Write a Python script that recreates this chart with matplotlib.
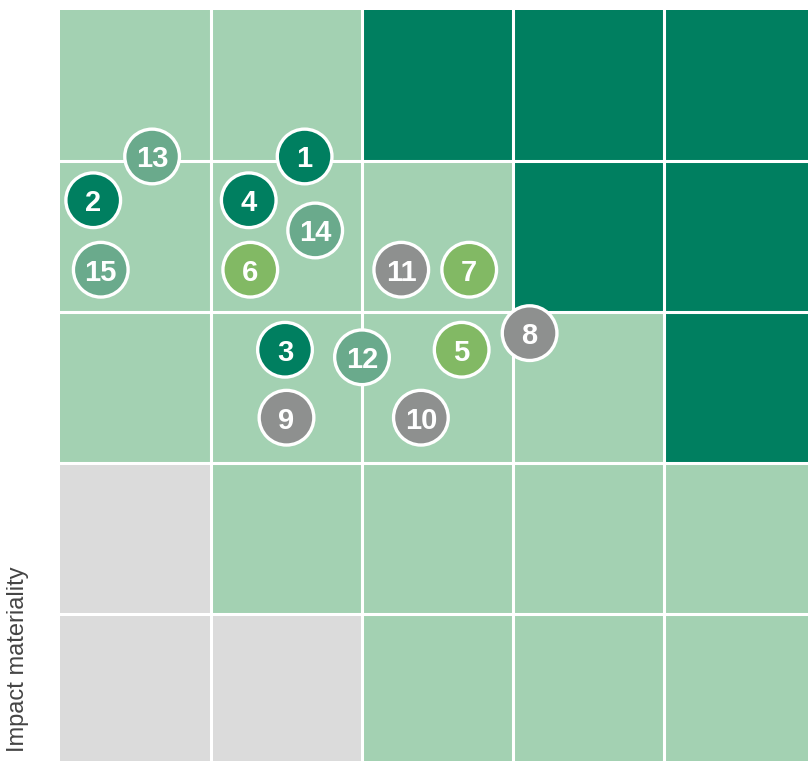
import matplotlib
matplotlib.use("Agg")
import matplotlib.pyplot as plt
from matplotlib.patches import Rectangle

plt.rcParams['font.family'] = ['Liberation Sans', 'DejaVu Sans']

# grid cell categories, rows from top to bottom: L=light green, D=dark green, G=grey
grid_rows = [
    "LLDDD",
    "LLLDD",
    "LLLLD",
    "GLLLL",
    "GGLLL",
]
cell_colors = {"L": "#a3d1b2", "D": "#007f60", "G": "#dbdbdb"}

labels = ["1", "2", "3", "4", "5", "6", "7", "8", "9", "10", "11", "12", "13", "14", "15"]
x_vals = [1.62, 0.22, 1.49, 1.25, 2.66, 1.26, 2.71, 3.11, 1.50, 2.39, 2.26, 2.00, 0.61, 1.69, 0.27]
y_vals = [4.03, 3.74, 2.75, 3.74, 2.75, 3.28, 3.28, 2.86, 2.30, 2.30, 3.28, 2.70, 4.03, 3.54, 3.28]
groups = ["dark", "dark", "dark", "dark", "olive", "olive", "olive", "grey", "grey", "grey", "grey",
          "mid", "mid", "mid", "mid"]
group_colors = {"dark": "#007f60", "mid": "#6aaa8c", "olive": "#82b964", "grey": "#8e908f"}

fig = plt.figure(figsize=(8.08, 7.61), dpi=100)
ax = fig.add_axes([60/808, -4/761, 755/808, 755/761])
ax.set_xlim(0, 5)
ax.set_ylim(0, 5)
ax.axis("off")

n = len(grid_rows)
for r, row in enumerate(grid_rows):
    for c, ch in enumerate(row):
        ax.add_patch(Rectangle((c, n - 1 - r), 1, 1, facecolor=cell_colors[ch],
                               edgecolor="none", zorder=1))
for k in range(1, n):
    ax.axvline(k, color="white", lw=2.2, zorder=2)
    ax.axhline(k, color="white", lw=2.2, zorder=2)

ax.scatter(x_vals, y_vals, s=1550, c=[group_colors[g] for g in groups],
           edgecolors="white", linewidths=2.4, zorder=3)
for lab, x, y in zip(labels, x_vals, y_vals):
    ax.text(x, y, lab, ha="center", va="center_baseline", color="white",
            fontsize=21, fontweight="bold", zorder=4)

fig.text(18/808, 9/761, "Impact materiality", rotation=90, ha="center", va="bottom",
         fontsize=17, color="#444444")

fig.savefig("out.png", dpi=100)
